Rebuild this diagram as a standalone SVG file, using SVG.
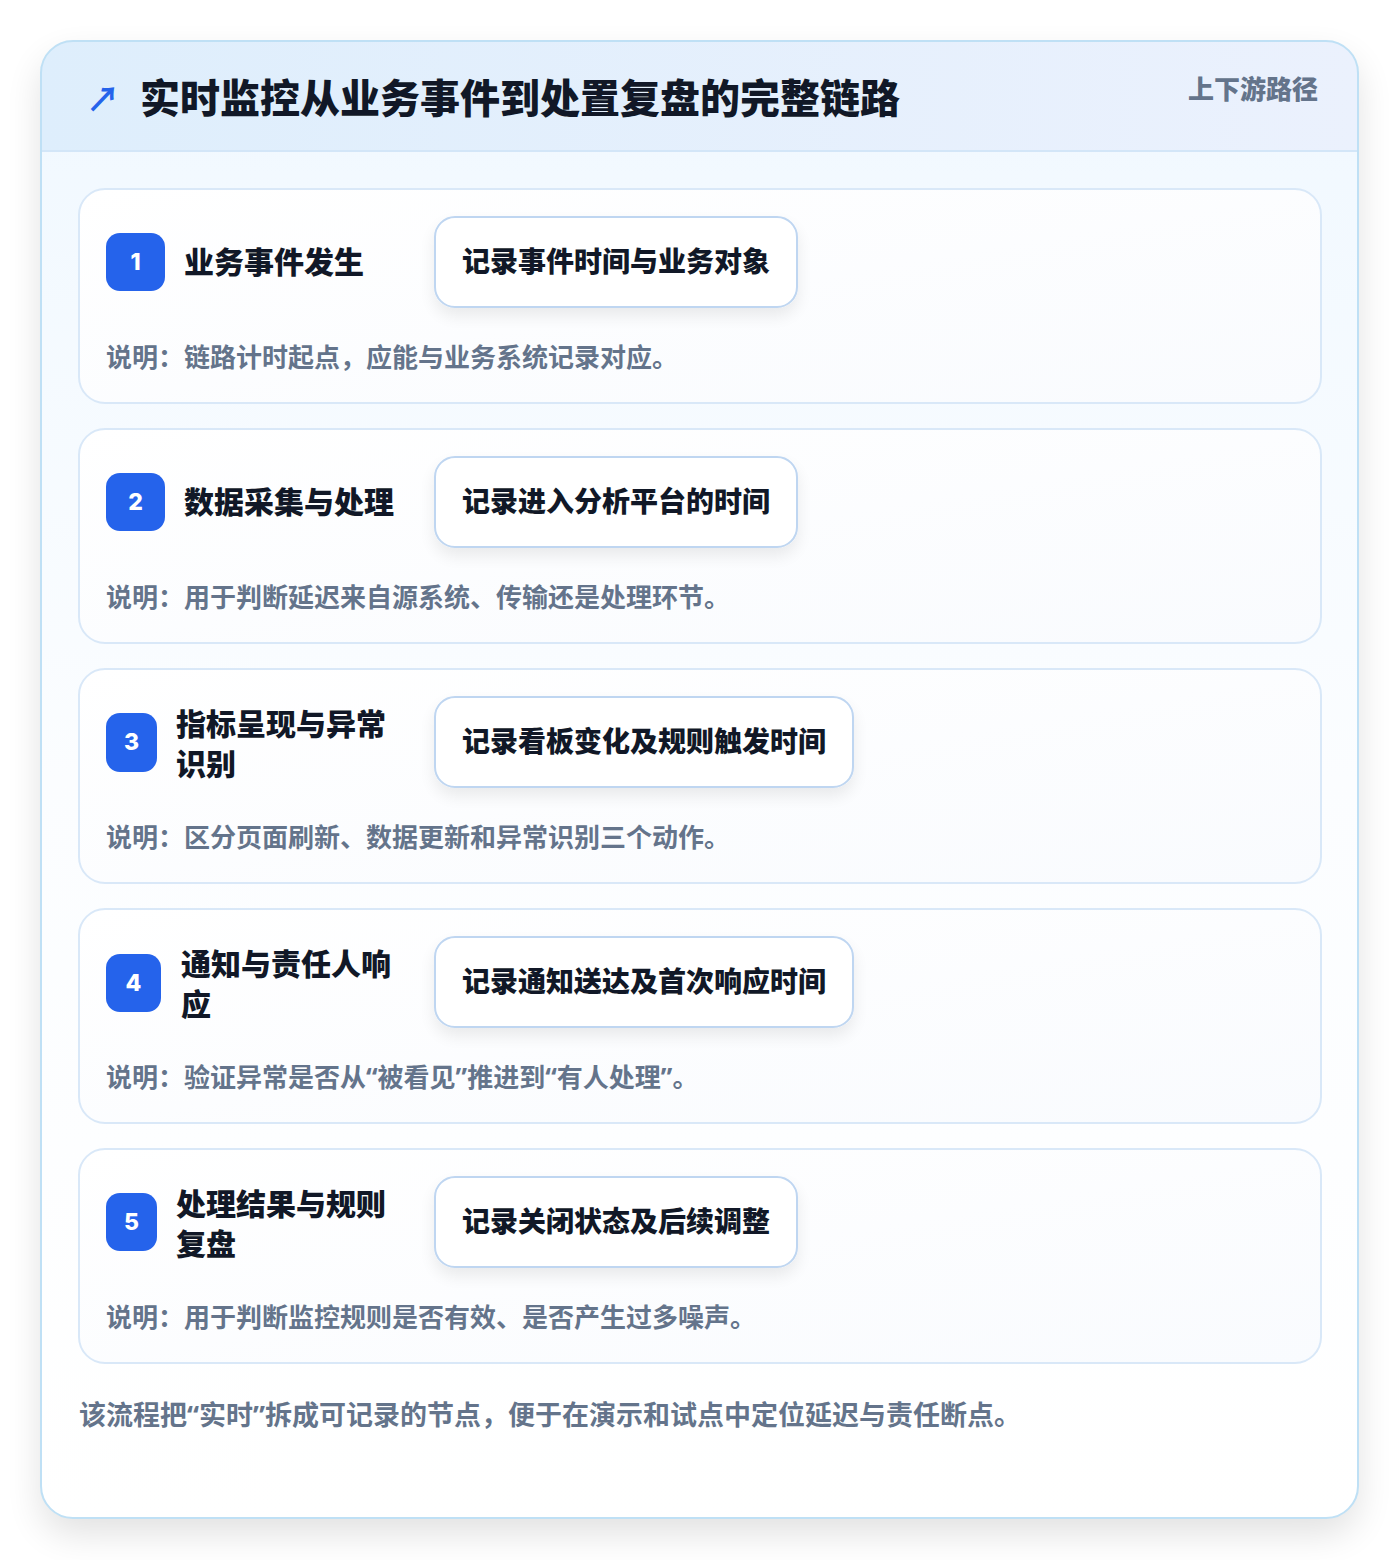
<svg xmlns="http://www.w3.org/2000/svg" width="1400" height="1560" viewBox="0 0 1400 1560">
<defs>
<linearGradient id="hdr" x1="0" y1="0" x2="1" y2="0">
<stop offset="0" stop-color="#deeefc"/>
<stop offset="1" stop-color="#ebf1fd"/>
</linearGradient>
<linearGradient id="body" x1="0" y1="0" x2="0" y2="1">
<stop offset="0" stop-color="#f0f8ff"/>
<stop offset="0.5" stop-color="#fbfdff"/>
<stop offset="1" stop-color="#ffffff"/>
</linearGradient>
<linearGradient id="cardg" x1="0" y1="0" x2="1" y2="1">
<stop offset="0" stop-color="#ffffff"/>
<stop offset="1" stop-color="#f9fbfe"/>
</linearGradient>
<filter id="outerShadow" x="-10%" y="-10%" width="120%" height="120%">
<feGaussianBlur in="SourceAlpha" stdDeviation="18"/>
<feOffset dy="16"/>
<feComponentTransfer><feFuncA type="linear" slope="0.12"/></feComponentTransfer>
<feMerge><feMergeNode/><feMergeNode in="SourceGraphic"/></feMerge>
</filter>
<filter id="boxShadow" x="-20%" y="-40%" width="140%" height="190%">
<feGaussianBlur in="SourceAlpha" stdDeviation="8"/>
<feOffset dy="8"/>
<feComponentTransfer><feFuncA type="linear" slope="0.08"/></feComponentTransfer>
<feMerge><feMergeNode/><feMergeNode in="SourceGraphic"/></feMerge>
</filter>
<clipPath id="outerClip"><rect x="41" y="41" width="1317" height="1477" rx="32"/></clipPath>
</defs>
<style>
text{font-family:"Noto Sans CJK SC","Noto Sans",sans-serif;}
.q{font-family:"Noto Sans","Liberation Sans",sans-serif;}
.card{fill:url(#cardg);stroke:#d9e8f8;stroke-width:2;}
.badge{fill:#2563eb;}
.num{fill:#ffffff;font-family:"Inter","Noto Sans",sans-serif;font-weight:800;font-size:23px;text-anchor:middle;}
.ttl{fill:#111827;font-weight:800;font-size:30px;}
.rec{fill:#ffffff;stroke:#bfd6f1;stroke-width:2;}
.rect{fill:#111827;font-weight:800;font-size:28px;}
.desc{fill:#64748b;font-weight:700;font-size:26px;}
</style>
<rect x="0" y="0" width="1400" height="1560" fill="#ffffff"/>
<g id="frame">
<rect x="41" y="41" width="1317" height="1477" rx="32" fill="url(#body)" filter="url(#outerShadow)"/>
<g clip-path="url(#outerClip)">
<rect x="41" y="41" width="1317" height="110" fill="url(#hdr)"/>
<line x1="41" y1="151" x2="1358" y2="151" stroke="#d3e6f8" stroke-width="2"/>
</g>
<rect x="41" y="41" width="1317" height="1477" rx="32" fill="none" stroke="#bfe0f5" stroke-width="2"/>
</g>
<g id="header">
<text x="86" y="112" fill="#2563eb" font-family="DejaVu Sans,sans-serif" font-size="34" font-weight="700">↗</text>
<text x="140" y="113" fill="#111827" font-weight="800" font-size="40">实时监控从业务事件到处置复盘的完整链路</text>
<text x="1318" y="99" fill="#64748b" font-weight="800" font-size="26" text-anchor="end">上下游路径</text>
</g>
<g id="step1">
<rect class="card" x="79" y="189" width="1242" height="214" rx="26"/>
<rect class="badge" x="106" y="233" width="59" height="58" rx="14"/>
<text class="num" x="135.5" y="270">1</text>
<text class="ttl" x="184" y="273">业务事件发生</text>
<rect class="rec" x="435" y="217" width="362" height="90" rx="20" filter="url(#boxShadow)"/>
<text class="rect" x="462" y="272">记录事件时间与业务对象</text>
<text class="desc" x="106" y="367">说明：链路计时起点，应能与业务系统记录对应。</text>
</g>
<g id="step2">
<rect class="card" x="79" y="429" width="1242" height="214" rx="26"/>
<rect class="badge" x="106" y="473" width="59" height="58" rx="14"/>
<text class="num" x="135.5" y="510">2</text>
<text class="ttl" x="184" y="513">数据采集与处理</text>
<rect class="rec" x="435" y="457" width="362" height="90" rx="20" filter="url(#boxShadow)"/>
<text class="rect" x="462" y="512">记录进入分析平台的时间</text>
<text class="desc" x="106" y="607">说明：用于判断延迟来自源系统、传输还是处理环节。</text>
</g>
<g id="step3">
<rect class="card" x="79" y="669" width="1242" height="214" rx="26"/>
<rect class="badge" x="106" y="713" width="51" height="59" rx="14"/>
<text class="num" x="131.5" y="750">3</text>
<text class="ttl" x="176" y="735">指标呈现与异常</text>
<text class="ttl" x="176" y="775">识别</text>
<rect class="rec" x="435" y="697" width="418" height="90" rx="20" filter="url(#boxShadow)"/>
<text class="rect" x="462" y="752">记录看板变化及规则触发时间</text>
<text class="desc" x="106" y="847">说明：区分页面刷新、数据更新和异常识别三个动作。</text>
</g>
<g id="step4">
<rect class="card" x="79" y="909" width="1242" height="214" rx="26"/>
<rect class="badge" x="106" y="954" width="55" height="58" rx="14"/>
<text class="num" x="133.5" y="991">4</text>
<text class="ttl" x="181" y="975">通知与责任人响</text>
<text class="ttl" x="181" y="1015">应</text>
<rect class="rec" x="435" y="937" width="418" height="90" rx="20" filter="url(#boxShadow)"/>
<text class="rect" x="462" y="992">记录通知送达及首次响应时间</text>
<text class="desc" x="106" y="1087">说明：验证异常是否从<tspan class="q">“</tspan>被看见<tspan class="q">”</tspan>推进到<tspan class="q">“</tspan>有人处理<tspan class="q">”</tspan>。</text>
</g>
<g id="step5">
<rect class="card" x="79" y="1149" width="1242" height="214" rx="26"/>
<rect class="badge" x="106" y="1193" width="51" height="58" rx="14"/>
<text class="num" x="131.5" y="1230">5</text>
<text class="ttl" x="176" y="1215">处理结果与规则</text>
<text class="ttl" x="176" y="1255">复盘</text>
<rect class="rec" x="435" y="1177" width="362" height="90" rx="20" filter="url(#boxShadow)"/>
<text class="rect" x="462" y="1232">记录关闭状态及后续调整</text>
<text class="desc" x="106" y="1327">说明：用于判断监控规则是否有效、是否产生过多噪声。</text>
</g>
<g id="connectors"></g>
<g id="footer">
<text x="79" y="1425" fill="#64748b" font-weight="700" font-size="27">该流程把<tspan class="q">“</tspan>实时<tspan class="q">”</tspan>拆成可记录的节点，便于在演示和试点中定位延迟与责任断点。</text>
</g>
</svg>
